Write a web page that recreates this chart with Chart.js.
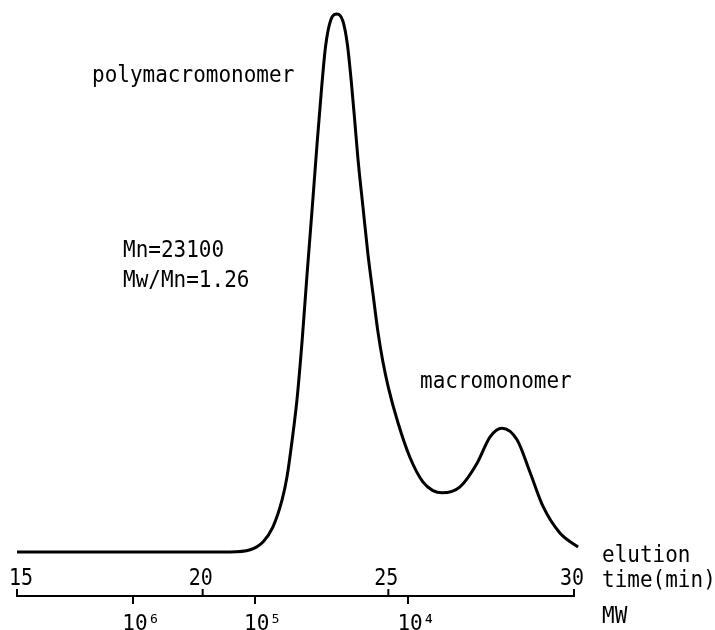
<!DOCTYPE html>
<html lang="en">
<head>
<meta charset="UTF-8">
<script src="https://cdn.jsdelivr.net/npm/chart.js@4.4.0/dist/chart.umd.min.js"></script>
<title>GPC trace</title>
<style>
  html, body { margin: 0; padding: 0; background: #fff; }
  canvas { display: block; }
</style>
</head>
<body>
<canvas id="gpcChart" width="715" height="630"></canvas>
<script>
// elution time (min) and detector response (peak = 100)
const elutionTime = [15.0, 17.2, 19.9, 20.74, 21.28, 21.63, 21.89, 22.14, 22.27, 22.41, 22.54, 22.68, 22.81, 22.95,
                     23.08, 23.20, 23.31, 23.45, 23.62, 23.78, 23.90, 24.00, 24.09, 24.18, 24.32, 24.45, 24.59,
                     24.72, 24.85, 25.0, 25.26, 25.58, 25.93, 26.2, 26.45, 26.93, 27.39, 27.74, 28.06, 28.47,
                     28.82, 29.17, 29.62, 30.11];
const response = [0, 0, 0, 0, 0.4, 1.9, 4.6, 9.7, 13.9, 20.8, 28.3, 39.4, 51.5, 63.9,
                  75.8, 86.0, 94.0, 98.9, 100, 98.6, 94.2, 87.6, 80.6, 73.2, 63.9, 55.4, 47.8,
                  40.9, 35.5, 30.6, 24.0, 17.6, 13.0, 11.4, 11.0, 12.1, 16.5, 21.4, 23.0, 20.8,
                  14.7, 8.4, 3.5, 0.9];

// elution time tick labels
const timeTicks = [15, 20, 25, 30];

// molecular weight calibration marks (position in elution time)
const mwTimes = [18.13, 21.41, 25.54];
const mwLabels = ["10\u2076", "10\u2075", "10\u2074"];

const points = elutionTime.map((t, i) => ({ x: t, y: response[i] }));

const FONT = '"DejaVu Sans Mono", monospace';

// typewriter-like text: slightly stretched vertically
function tallText(ctx, s, x, y, align) {
    ctx.save();
    ctx.translate(x, y);
    ctx.scale(1, 1.12);
    ctx.textAlign = align || 'left';
    ctx.fillText(s, 0, 0);
    ctx.restore();
}

const drawExtras = {
    id: 'drawExtras',
    afterDraw(chart) {
        const ctx = chart.ctx;
        const xs = chart.scales.x;
        const bottom = chart.chartArea.bottom;
        ctx.save();
        ctx.strokeStyle = '#000';
        ctx.fillStyle = '#000';
        ctx.lineWidth = 2;
        ctx.textBaseline = 'alphabetic';
        // upward time ticks with labels above the axis line
        ctx.font = '20px ' + FONT;
        timeTicks.forEach(v => {
            const px = xs.getPixelForValue(v);
            ctx.beginPath();
            ctx.moveTo(px, bottom);
            ctx.lineTo(px, bottom - 7);
            ctx.stroke();
            tallText(ctx, String(v), px + (v === 15 ? 4 : -2), bottom - 11, 'center');
        });
        // labels
        ctx.font = '21px ' + FONT;
        const txt = [
            ['polymacromonomer', 92, 82],
            ['Mn=23100', 123, 257],
            ['Mw/Mn=1.26', 123, 287],
            ['macromonomer', 420, 388],
            ['elution', 602, 562],
            ['time(min)', 602, 587],
            ['MW', 602, 623]
        ];
        txt.forEach(([s, x, y]) => tallText(ctx, s, x, y));
        ctx.restore();
    }
};

new Chart('gpcChart', {
    type: 'line',
    data: {
        datasets: [{
            data: points,
            borderColor: '#000',
            borderWidth: 3,
            pointRadius: 0,
            tension: 0.4,
            cubicInterpolationMode: 'monotone',
            fill: false,
            clip: false
        }]
    },
    options: {
        responsive: false,
        animation: false,
        devicePixelRatio: 1,
        layout: { padding: { left: 17, right: 141, top: 0, bottom: 0 } },
        plugins: { legend: { display: false }, tooltip: { enabled: false } },
        scales: {
            x: {
                type: 'linear',
                min: 15,
                max: 30,
                display: false
            },
            mw: {
                type: 'linear',
                axis: 'x',
                position: 'bottom',
                min: 15,
                max: 30,
                afterBuildTicks: s => { s.ticks = mwTimes.map(v => ({ value: v })); },
                afterFit: s => { s.height = 34; },
                grid: { drawOnChartArea: false, drawTicks: true, tickLength: 8, color: '#000', lineWidth: 2 },
                border: { display: true, color: '#000', width: 2 },
                ticks: {
                    autoSkip: false,
                    maxRotation: 0,
                    padding: 8,
                    labelOffset: 8,
                    color: '#000',
                    font: { family: FONT, size: 21 },
                    callback: (v, i) => mwLabels[i]
                }
            },
            y: {
                type: 'linear',
                min: -8.2,
                max: 102.6,
                display: false
            }
        }
    },
    plugins: [drawExtras]
});
</script>
</body>
</html>
